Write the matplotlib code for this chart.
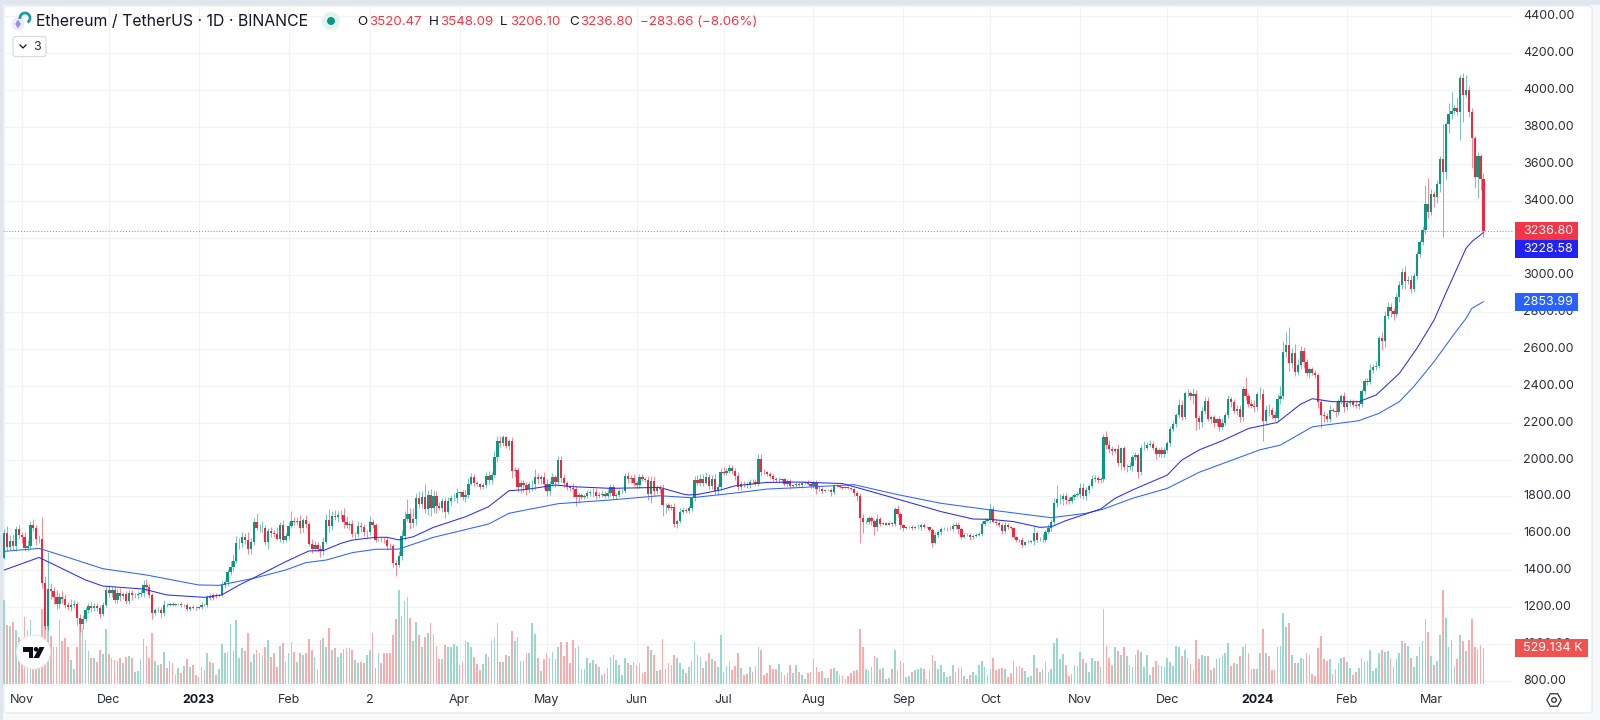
import numpy as np
import matplotlib
matplotlib.use("Agg")
import matplotlib.pyplot as plt
from matplotlib.patches import Circle, FancyBboxPatch, Polygon, Rectangle, RegularPolygon, Arc

plt.rcParams['font.family'] = ['Inter', 'DejaVu Sans']

# closes per month, index 0 is 1 Nov 2022
close_oct22 = [1600, 1525, 1560, 1530, 1622, 1590]
close_nov22 = [1578, 1520, 1530, 1645, 1628, 1570, 1570, 1333, 1100, 1300, 1287, 1255, 1220, 1255, 1245, 1215, 1200, 1213, 1218, 1140, 1108, 1135, 1185, 1205, 1195, 1205, 1195, 1165, 1215, 1295]
close_dec22 = [1275, 1295, 1240, 1280, 1260, 1270, 1232, 1280, 1265, 1265, 1272, 1275, 1320, 1310, 1265, 1168, 1185, 1188, 1168, 1215, 1212, 1218, 1215, 1218, 1220, 1212, 1212, 1190, 1200, 1198, 1197]
close_jan23 = [1200, 1215, 1214, 1256, 1250, 1268, 1263, 1265, 1320, 1335, 1390, 1420, 1450, 1550, 1550, 1578, 1565, 1513, 1555, 1660, 1627, 1627, 1630, 1555, 1612, 1603, 1598, 1571, 1645, 1566, 1585]
close_feb23 = [1642, 1665, 1660, 1665, 1630, 1670, 1650, 1545, 1515, 1540, 1515, 1505, 1555, 1675, 1640, 1695, 1690, 1700, 1700, 1660, 1645, 1650, 1595, 1595, 1640, 1635, 1605, 1605]
close_mar23 = [1662, 1648, 1567, 1567, 1565, 1563, 1534, 1533, 1439, 1430, 1480, 1587, 1680, 1705, 1655, 1678, 1790, 1760, 1795, 1730, 1810, 1735, 1805, 1750, 1740, 1775, 1715, 1775, 1790, 1790, 1820]
close_apr23 = [1822, 1795, 1808, 1870, 1905, 1872, 1865, 1850, 1860, 1910, 1890, 1918, 2012, 2100, 2092, 2120, 2075, 2100, 1938, 1945, 1850, 1875, 1860, 1840, 1865, 1865, 1908, 1893, 1905, 1870]
close_may23 = [1830, 1870, 1903, 1877, 1995, 1900, 1873, 1850, 1845, 1840, 1795, 1808, 1798, 1800, 1820, 1825, 1825, 1800, 1810, 1815, 1805, 1818, 1853, 1800, 1806, 1828, 1830, 1910, 1892, 1902, 1874]
close_jun23 = [1862, 1907, 1892, 1890, 1812, 1885, 1830, 1845, 1838, 1752, 1752, 1740, 1742, 1650, 1665, 1718, 1725, 1720, 1735, 1790, 1888, 1875, 1895, 1875, 1905, 1858, 1892, 1830, 1850, 1933]
close_jul23 = [1925, 1937, 1955, 1937, 1910, 1850, 1870, 1865, 1860, 1880, 1878, 1870, 2005, 1935, 1930, 1920, 1910, 1895, 1890, 1890, 1892, 1865, 1885, 1855, 1860, 1870, 1860, 1875, 1880, 1865, 1855]
close_aug23 = [1875, 1840, 1838, 1828, 1835, 1835, 1825, 1855, 1855, 1850, 1848, 1850, 1845, 1840, 1820, 1805, 1685, 1660, 1660, 1685, 1665, 1635, 1680, 1652, 1655, 1648, 1655, 1650, 1730, 1705, 1645]
close_sep23 = [1630, 1635, 1636, 1630, 1635, 1635, 1645, 1635, 1636, 1617, 1550, 1593, 1608, 1625, 1625, 1625, 1622, 1640, 1645, 1623, 1583, 1593, 1592, 1582, 1588, 1593, 1595, 1652, 1668, 1672]
close_oct23 = [1732, 1664, 1655, 1647, 1612, 1645, 1635, 1632, 1580, 1567, 1567, 1540, 1551, 1555, 1557, 1600, 1565, 1567, 1565, 1605, 1630, 1662, 1763, 1785, 1786, 1805, 1780, 1775, 1795, 1810, 1816]
close_nov23 = [1847, 1800, 1833, 1855, 1895, 1900, 1887, 1893, 2122, 2078, 2057, 2045, 2055, 1980, 2060, 1960, 1960, 1965, 2015, 2022, 1930, 2065, 2065, 2080, 2085, 2065, 2030, 2050, 2030, 2052]
close_dec23 = [2087, 2165, 2193, 2243, 2293, 2232, 2358, 2358, 2343, 2353, 2225, 2202, 2260, 2316, 2220, 2228, 2197, 2217, 2177, 2200, 2240, 2325, 2310, 2265, 2273, 2230, 2380, 2345, 2300, 2292, 2282]
close_jan24 = [2352, 2355, 2210, 2270, 2268, 2240, 2222, 2330, 2345, 2583, 2618, 2522, 2576, 2472, 2510, 2587, 2528, 2467, 2490, 2470, 2455, 2313, 2242, 2235, 2218, 2267, 2265, 2255, 2315, 2342, 2282]
close_feb24 = [2305, 2310, 2295, 2290, 2302, 2372, 2425, 2422, 2486, 2500, 2507, 2660, 2642, 2777, 2825, 2803, 2785, 2880, 2945, 3015, 2965, 2972, 2922, 2992, 3112, 3178, 3243, 3385, 3340]
close_mar24 = [3435, 3420, 3490, 3628, 3558, 3815, 3870, 3885, 3900, 3882, 4063, 3975, 4000, 3880, 3738, 3527, 3644, 3520.47, 3236.80]
first_open = 1465

# upper wick above the body
up_oct22 = [25, 40, 30, 35, 20, 25]
up_nov22 = [15, 30, 35, 20, 32, 15, 20, 120, 35, 200, 30, 25, 40, 20, 35, 25, 15, 30, 20, 15, 25, 25, 15, 20, 25, 20, 20, 15, 15, 20]
up_dec22 = [25, 15, 20, 20, 25, 15, 20, 15, 15, 15, 15, 20, 30, 35, 15, 15, 12, 15, 15, 25, 8, 8, 10, 8, 6, 8, 8, 10, 8, 10, 8]
up_jan23 = [8, 12, 6, 12, 15, 10, 8, 6, 25, 15, 18, 30, 40, 35, 25, 30, 25, 40, 20, 25, 50, 25, 35, 15, 20, 25, 15, 35, 15, 30, 15]
up_feb23 = [20, 55, 25, 25, 35, 15, 30, 10, 25, 20, 15, 20, 25, 30, 55, 25, 30, 20, 25, 35, 35, 15, 20, 15, 25, 20, 15, 15]
up_mar23 = [30, 15, 10, 8, 12, 15, 15, 12, 10, 15, 25, 30, 40, 80, 30, 60, 30, 40, 35, 70, 25, 30, 30, 25, 20, 15, 15, 20, 20, 30, 25]
up_apr23 = [10, 15, 25, 30, 20, 15, 10, 10, 15, 25, 30, 15, 35, 25, 25, 12, 5, 10, 20, 15, 15, 15, 15, 20, 15, 25, 40, 20, 10, 30]
up_may23 = [25, 15, 25, 15, 25, 25, 20, 10, 10, 30, 15, 10, 10, 12, 15, 10, 20, 20, 15, 15, 15, 20, 15, 15, 12, 15, 10, 15, 25, 15, 20]
up_jun23 = [10, 15, 15, 15, 20, 25, 25, 15, 15, 30, 15, 15, 15, 20, 15, 20, 20, 15, 12, 15, 25, 30, 25, 25, 25, 15, 25, 30, 15, 20]
up_jul23 = [25, 15, 20, 15, 15, 25, 15, 12, 15, 15, 15, 15, 25, 25, 12, 10, 10, 10, 10, 15, 10, 10, 10, 10, 8, 8, 8, 8, 5, 8, 8]
up_aug23 = [10, 15, 15, 15, 5, 5, 10, 15, 15, 8, 6, 5, 5, 5, 5, 12, 15, 20, 15, 8, 8, 15, 25, 10, 8, 8, 5, 8, 12, 25, 10]
up_sep23 = [8, 5, 5, 10, 5, 15, 10, 10, 5, 5, 15, 15, 10, 10, 8, 10, 15, 15, 15, 15, 10, 8, 8, 8, 8, 8, 10, 15, 15, 12]
up_oct23 = [30, 15, 12, 10, 8, 15, 10, 5, 5, 8, 5, 15, 5, 8, 8, 40, 15, 15, 30, 15, 20, 15, 30, 77, 25, 15, 15, 15, 15, 10, 10]
up_nov23 = [25, 25, 20, 15, 20, 15, 10, 15, 15, 30, 25, 15, 10, 30, 10, 15, 15, 20, 10, 20, 15, 15, 35, 15, 20, 15, 10, 15, 20, 15]
up_dec23 = [15, 15, 15, 10, 35, 30, 15, 25, 15, 35, 25, 15, 25, 20, 20, 15, 15, 10, 20, 25, 15, 25, 15, 15, 20, 20, 20, 65, 15, 20, 30]
up_jan24 = [15, 40, 25, 25, 30, 15, 25, 25, 55, 60, 70, 97, 25, 50, 35, 25, 20, 15, 10, 10, 15, 15, 15, 20, 15, 30, 10, 45, 15, 15, 25]
up_feb24 = [15, 15, 20, 25, 15, 10, 15, 15, 30, 15, 25, 10, 30, 25, 25, 20, 15, 20, 20, 20, 30, 20, 25, 20, 15, 10, 20, 100, 137]
up_mar24 = [30, 20, 25, 15, 190, 10, 57, 105, 20, 60, 20, 27, 80, 20, 25, 15, 20, 10, 28]

# lower wick below the body
down_oct22 = [5, 20, 15, 20, 25, 20]
down_nov22 = [30, 15, 15, 15, 15, 35, 20, 30, 25, 25, 40, 35, 30, 25, 20, 20, 15, 20, 15, 35, 40, 25, 15, 15, 20, 15, 15, 25, 10, 15]
down_dec22 = [20, 20, 15, 15, 25, 15, 15, 15, 25, 15, 20, 15, 20, 20, 15, 30, 10, 12, 25, 15, 10, 6, 8, 8, 8, 10, 8, 10, 10, 8, 12]
down_jan23 = [5, 8, 8, 10, 10, 8, 10, 8, 8, 15, 20, 15, 25, 10, 35, 25, 20, 25, 25, 15, 10, 20, 20, 15, 40, 20, 15, 8, 15, 20, 15]
down_feb23 = [20, 15, 15, 15, 30, 20, 20, 15, 20, 10, 15, 30, 20, 10, 30, 20, 20, 30, 20, 30, 15, 25, 15, 25, 15, 25, 20, 30]
down_mar23 = [15, 20, 15, 10, 10, 15, 25, 15, 20, 60, 10, 25, 25, 15, 30, 20, 30, 25, 25, 20, 30, 40, 25, 40, 15, 25, 30, 10, 20, 15, 25]
down_apr23 = [25, 15, 25, 15, 10, 15, 10, 10, 10, 15, 25, 20, 15, 25, 25, 20, 15, 25, 40, 30, 25, 30, 35, 30, 20, 35, 30, 25, 25, 30]
down_may23 = [25, 20, 15, 25, 20, 20, 20, 15, 15, 45, 45, 30, 10, 10, 10, 15, 30, 15, 10, 15, 15, 15, 15, 15, 15, 10, 10, 10, 20, 20, 15]
down_jun23 = [15, 15, 10, 10, 30, 50, 25, 15, 20, 60, 40, 15, 15, 15, 20, 10, 15, 10, 12, 15, 15, 15, 20, 20, 10, 20, 20, 15, 20, 15]
down_jul23 = [10, 10, 10, 15, 20, 15, 15, 15, 15, 15, 10, 10, 15, 25, 8, 8, 12, 10, 10, 15, 10, 8, 10, 15, 10, 12, 10, 15, 5, 5, 8]
down_aug23 = [10, 25, 10, 10, 5, 5, 25, 10, 5, 5, 5, 3, 5, 5, 15, 30, 135, 60, 10, 10, 20, 45, 20, 10, 8, 5, 5, 10, 10, 15, 20]
down_sep23 = [15, 5, 5, 10, 8, 10, 15, 8, 5, 8, 25, 8, 12, 15, 8, 10, 5, 10, 15, 25, 12, 8, 8, 15, 10, 8, 8, 10, 10, 8]
down_oct23 = [15, 10, 12, 10, 15, 10, 10, 10, 10, 15, 15, 15, 5, 5, 8, 20, 10, 8, 10, 12, 10, 15, 20, 20, 25, 30, 20, 15, 10, 15, 15]
down_nov23 = [25, 15, 20, 20, 10, 15, 15, 15, 15, 20, 20, 20, 10, 15, 35, 15, 30, 15, 25, 20, 30, 15, 15, 15, 10, 15, 25, 15, 15, 15]
down_dec23 = [10, 15, 10, 15, 20, 20, 15, 20, 20, 40, 65, 35, 25, 15, 10, 25, 20, 15, 25, 15, 15, 15, 25, 15, 25, 25, 20, 25, 15, 15, 25]
down_jan24 = [15, 25, 110, 15, 35, 20, 15, 15, 30, 20, 30, 45, 25, 20, 15, 20, 35, 15, 25, 10, 15, 35, 72, 30, 15, 15, 10, 25, 15, 15, 25]
down_feb24 = [15, 15, 10, 10, 15, 20, 15, 20, 15, 20, 15, 10, 50, 35, 15, 30, 30, 15, 25, 20, 40, 15, 20, 15, 15, 15, 15, 20, 35]
down_mar24 = [15, 55, 30, 40, 353, 40, 50, 25, 15, 20, 153, 147, 15, 25, 160, 60, 114, 62, 30.7]

# volume in thousands
vol_a = [1227, 862, 847, 901, 789, 692, 650, 974, 790, 935, 650, 600, 560, 1100, 1250, 1000, 700, 545, 545, 935,
         633, 667, 536, 351, 214, 536, 886, 813, 643, 487, 385, 375, 326, 497, 438, 799, 433, 375, 351, 341,
         375, 312, 399, 409, 375, 180, 190, 360, 657, 555, 375, 750, 341, 278, 292, 463, 239, 336, 302, 131,
         229, 166, 263, 360, 244, 278, 131]
vol_b = [107, 253, 205, 448, 326, 312, 131, 214, 584, 458, 468, 872, 487, 935, 375, 521, 487, 750, 326, 438,
         497, 458, 424, 536, 643, 399, 448, 253, 555, 594, 326, 448, 618, 472, 326, 448, 424, 448, 657, 497,
         399, 205, 643, 667, 545, 823, 497, 521, 399, 448, 506, 521, 521, 497, 351, 302, 326, 302, 424, 497,
         740, 229, 448, 302, 448, 458]
vol_c = [458, 716, 950, 1373, 998, 1218, 1276, 959, 628, 901, 716, 536, 682, 740, 886, 731, 560, 360, 360, 570,
         536, 536, 580, 555, 278, 321, 628, 618, 545, 399, 287, 205, 292, 433, 399, 628, 672, 896, 321, 321,
         424, 409, 774, 628, 692, 341, 341, 448, 458, 896, 731, 385, 185, 360, 448, 375, 468, 360, 545, 609,
         409, 618, 312, 643, 521, 560, 219, 224, 385, 312, 351, 292, 244, 136, 156, 234, 399, 419, 351, 273,
         136, 380, 312, 273, 321, 278, 312, 156, 175, 555, 492, 424, 190, 205, 653, 224, 307, 282, 419, 375,
         312, 219, 161, 248, 331, 614, 419, 399, 229, 341, 453, 365, 331, 244, 711, 180, 263, 321, 205, 268,
         453, 234, 131, 141, 248, 180, 268, 545, 497, 136, 156, 278, 219, 224, 292, 170, 131, 156, 273, 156,
         278, 170]
vol_d = [136, 73, 161, 170, 360, 248, 175, 190, 93, 88, 224, 234, 190, 131, 117, 68, 122, 156, 185, 205,
         808, 536, 224, 205, 248, 404, 375, 224, 234, 78, 93, 214, 492, 205, 331, 307, 102, 117, 170, 205,
         224, 229, 224, 68, 205, 419, 331, 224, 273, 180, 97, 122, 282, 180, 234, 244, 122, 68, 136, 175,
         131, 273, 336, 248, 136, 224, 380, 205, 224, 239, 219, 102, 156, 341, 244, 258, 239, 190, 102, 122,
         419, 234, 175, 219, 321, 175, 224, 604, 672, 360, 433, 273, 122, 146, 282, 263, 468, 365, 312, 175,
         380, 331, 336, 248, 1096, 555, 375, 282, 536, 482, 424, 545, 404, 282, 248, 424, 492, 463, 248, 424,
         136, 248, 331, 282, 263, 248, 375, 321, 263, 555, 536, 409, 492, 380, 292, 205, 643, 365, 424, 409]
vol_e = [409, 205, 229, 365, 385, 424, 448, 594, 263, 312, 292, 409, 541, 580, 453, 219, 219, 219, 453, 799,
         448, 404, 205, 205, 536, 555, 1032, 838, 886, 424, 312, 312, 385, 365, 453, 424, 141, 122, 526, 696,
         360, 336, 365, 146, 219, 312, 375, 394, 317, 239, 136, 180, 239, 375, 341, 341, 497, 185, 229, 453,
         497, 472, 482, 380, 248, 365, 453, 628, 594, 560, 385, 248, 409, 545, 628, 945, 760, 409, 282, 341,
         711, 1378, 959, 541, 643, 263, 360, 711, 628, 482, 648, 945, 541, 516, 570, 529.134]

# moving averages, read at a few days
ma_dark_days = [-6, 6, 22, 28, 42, 50, 63, 69, 75, 82, 91, 99, 104, 110, 114, 122, 126, 130, 135, 142, 153, 161, 168, 174, 184, 190, 203, 220, 228, 230, 233, 241, 246, 257, 268, 283, 291, 302, 317, 328, 334, 342, 351, 355, 360, 372, 377, 383, 395, 400, 406, 414, 423, 433, 441, 445, 452, 461, 467, 475, 481, 487, 491, 498, 500, 504]
ma_dark = [1402, 1470, 1348, 1315, 1299, 1267, 1254, 1267, 1321, 1375, 1447, 1505, 1507, 1546, 1564, 1579, 1579, 1565, 1582, 1633, 1690, 1745, 1831, 1838, 1862, 1853, 1844, 1849, 1813, 1808, 1811, 1835, 1858, 1876, 1878, 1870, 1835, 1786, 1718, 1678, 1676, 1664, 1633, 1636, 1669, 1732, 1790, 1835, 1916, 1997, 2052, 2102, 2168, 2201, 2300, 2329, 2313, 2313, 2349, 2466, 2600, 2755, 2899, 3143, 3179, 3228.58]
ma_blue_days = [-6, 6, 16, 28, 43, 61, 68, 80, 91, 98, 105, 114, 122, 130, 142, 161, 168, 185, 203, 220, 231, 245, 257, 268, 287, 302, 317, 334, 355, 367, 373, 383, 395, 406, 427, 434, 445, 461, 468, 475, 480, 487, 493, 498, 500, 504]
ma_blue = [1503, 1519, 1470, 1409, 1375, 1321, 1319, 1357, 1402, 1442, 1456, 1496, 1514, 1515, 1579, 1651, 1709, 1761, 1781, 1804, 1793, 1817, 1840, 1848, 1864, 1810, 1763, 1727, 1685, 1709, 1732, 1790, 1844, 1931, 2053, 2078, 2177, 2210, 2250, 2313, 2395, 2530, 2660, 2764, 2818, 2853.99]

price_ticks = [800, 1000, 1200, 1400, 1600, 1800, 2000, 2200, 2400, 2600, 2800, 3000, 3200, 3400, 3600, 3800, 4000, 4200, 4400]
hidden_price_labels = [3200]  # sits under the last price tags in the reference
month_days = [0, 30, 61, 92, 120, 151, 181, 212, 242, 273, 304, 334, 365, 395, 426, 457, 486]
month_labels = ["Nov", "Dec", "2023", "Feb", "2", "Apr", "May", "Jun", "Jul", "Aug", "Sep", "Oct", "Nov", "Dec", "2024", "Feb", "Mar"]
bold_labels = ["2023", "2024"]

closes = np.array(close_oct22 + close_nov22 + close_dec22 + close_jan23 + close_feb23 + close_mar23 + close_apr23 + close_may23 + close_jun23 + close_jul23 + close_aug23 + close_sep23 + close_oct23 + close_nov23 + close_dec23 + close_jan24 + close_feb24 + close_mar24)
wick_up = np.array(up_oct22 + up_nov22 + up_dec22 + up_jan23 + up_feb23 + up_mar23 + up_apr23 + up_may23 + up_jun23 + up_jul23 + up_aug23 + up_sep23 + up_oct23 + up_nov23 + up_dec23 + up_jan24 + up_feb24 + up_mar24)
wick_down = np.array(down_oct22 + down_nov22 + down_dec22 + down_jan23 + down_feb23 + down_mar23 + down_apr23 + down_may23 + down_jun23 + down_jul23 + down_aug23 + down_sep23 + down_oct23 + down_nov23 + down_dec23 + down_jan24 + down_feb24 + down_mar24)
volumes = np.array(vol_a + vol_b + vol_c + vol_d + vol_e)
assert len(closes) == len(wick_up) == len(wick_down) == len(volumes), (len(closes), len(wick_up), len(wick_down), len(volumes))

opens = np.concatenate([[first_open], closes[:-1]])
days = np.arange(len(closes)) - 6
rising = closes >= opens
highs = np.maximum(opens, closes) + wick_up
lows = np.minimum(opens, closes) - wick_down

GREEN = "#089981"
RED = "#f7253c"
GRID = "#f0f2f6"
W, H = 1600, 720
AXIS_FONT = 9.0


def px_axes(left, top, right, bottom, **kw):
    return fig.add_axes([left / W, 1 - bottom / H, (right - left) / W, (bottom - top) / H], **kw)


fig = plt.figure(figsize=(16, 7.2), dpi=100, facecolor="white")

# page frame
ui_back = fig.add_axes([0, 0, 1, 1], zorder=0)
ui_back.set_xlim(0, W)
ui_back.set_ylim(H, 0)
ui_back.axis("off")
ui_back.add_patch(Rectangle((0, 0), W, H, fc="#f7f8f9", ec="none"))
ui_back.add_patch(Rectangle((0, 0), W, 5, fc="#e0e5ee", ec="none"))
ui_back.add_patch(Rectangle((0, 0), 3, H, fc="#e0e5ee", ec="none"))
ui_back.add_patch(FancyBboxPatch((4, 6), 1588, 707, boxstyle="round,pad=0,rounding_size=3", fc="white", ec="#e4e6ea", lw=0.8))

# main pane
ax = px_axes(3, 5, 1513, 684, zorder=1)
ax.patch.set_alpha(0)
ax.set_xlim(-6.45, 514.2)
ax.set_ylim(785, 4460)
for s in ax.spines.values():
    s.set_visible(False)
ax.set_xticks(month_days)
ax.set_yticks(price_ticks)
ax.tick_params(length=0, labelbottom=False, labelleft=False)
ax.grid(True, color=GRID, lw=0.75)
ax.set_axisbelow(True)

# volume shares the pane, baseline at the bottom
ax_vol = ax.twinx()
ax_vol.set_ylim(0, 9913)
ax_vol.axis("off")
ax_vol.bar(days, volumes, width=0.58, color=np.where(rising, "#9ad7cc", "#fbabab"), zorder=1, lw=0)

# candles
ax_c = ax.twinx()
ax_c.set_ylim(785, 4460)
ax_c.axis("off")
colors = np.where(rising, GREEN, RED)
ax_c.vlines(days, lows, highs, colors=colors, lw=0.55, alpha=0.7, zorder=2)
ax_c.bar(days, np.abs(closes - opens), bottom=np.minimum(opens, closes), width=0.8, color=colors, lw=0, zorder=3)
ax_c.plot(ma_blue_days, ma_blue, color="#2f62ff", lw=0.75, zorder=4)
ax_c.plot(ma_dark_days, ma_dark, color="#2b2bf0", lw=0.75, zorder=5)
ax_c.axhline(closes[-1], color="#f23645", lw=0.7, ls=(0, (1, 2)), alpha=0.8, zorder=4)

# price scale
ax_p = px_axes(1513, 5, 1593, 684, zorder=3)
ax_p.patch.set_alpha(0)
ax_p.set_xlim(1513, 1593)
ax_p.set_ylim(785, 4460)
ax_p.axis("off")
for p in price_ticks:
    if p not in hidden_price_labels:
        ax_p.text(1523, p, f"{p:.2f}", fontsize=AXIS_FONT, color="#2a2e39", va="center", ha="left")


def price_tag(y, label, color, left=1515, right=1578):
    # tag is 18 px tall, which is 98 price units either way
    ax_p.add_patch(Rectangle((left, y - 49), right - left, 98, fc=color, ec="none", zorder=5))
    ax_p.text(left + 8, y, label, fontsize=AXIS_FONT, color="white", va="center", ha="left", zorder=6)


price_tag(closes[-1], f"{closes[-1]:.2f}", "#f23645")
# blue tag is pushed below the red one in the reference
price_tag(closes[-1] - 97, f"{ma_dark[-1]:.2f}", "#2222f5")
price_tag(ma_blue[-1], f"{ma_blue[-1]:.2f}", "#2962ff")
vol_price = 785 + volumes[-1] / 9913 * (4460 - 785)
price_tag(vol_price, f"{volumes[-1]:.3f} K", "#ef5350", right=1588)

# time scale
ax_t = px_axes(3, 684, 1513, 714, zorder=3)
ax_t.patch.set_alpha(0)
ax_t.set_xlim(-6.45, 514.2)
ax_t.set_ylim(1, 0)
ax_t.axis("off")
for d, lab in zip(month_days, month_labels):
    ax_t.text(d, 0.53, lab, fontsize=AXIS_FONT, color="#131722" if lab in bold_labels else "#2a2e39",
              fontweight="bold" if lab in bold_labels else "normal", ha="center", va="center")

# header and widgets on top
ui = fig.add_axes([0, 0, 1, 1], zorder=6)
ui.set_xlim(0, W)
ui.set_ylim(H, 0)
ui.axis("off")
ui.text(36, 22, "Ethereum / TetherUS · 1D · BINANCE", fontsize=11.4, color="#131722", va="center", ha="left")
ui.add_patch(Circle((331, 21), 9, fc="#e1f3ef", ec="none"))
ui.add_patch(Circle((331, 21), 4, fc=GREEN, ec="none"))
header_parts = [(357, "O", "#131722"), (369, "3520.47", "#f23645"), (429, "H", "#131722"), (440, "3548.09", "#f23645"),
                (500, "L", "#131722"), (510, "3206.10", "#f23645"), (569, "C", "#131722"), (580, "3236.80", "#f23645"),
                (640, "−283.66 (−8.06%)", "#f23645")]
for hx, txt, col in header_parts:
    ui.text(hx, 22, txt, fontsize=9.6, color=col, va="center", ha="left")

# symbol logo
ui.add_patch(Circle((18, 24), 6.5, fc="#eeecfb", ec="none"))
ui.add_patch(Polygon([(18, 19.5), (20.8, 24), (18, 28.5), (15.2, 24)], fc="#9d8bea", ec="none"))
ui.add_patch(Arc((25, 18), 10, 10, theta1=170, theta2=60, color="#1e9c9c", lw=2))

# indicators button
ui.add_patch(FancyBboxPatch((13, 36.5), 33, 20, boxstyle="round,pad=0,rounding_size=2.5", fc="white", ec="#d6d9e0", lw=0.8))
ui.plot([20, 23, 26], [45, 48, 45], color="#131722", lw=0.9)
ui.text(37, 46.5, "3", fontsize=AXIS_FONT, color="#2a2e39", va="center", ha="center")

# watermark logo
ui.add_patch(Circle((33.5, 652), 17, fc="white", ec="#e6e8ee", lw=0.8))
ui.add_patch(Polygon([(23, 647), (33, 647), (33, 658), (28.5, 658), (28.5, 651.5), (23, 651.5)], fc="#0b0e14", ec="none"))
ui.add_patch(Circle((36, 649.3), 2.3, fc="#0b0e14", ec="none"))
ui.add_patch(Polygon([(39.5, 647), (44.5, 647), (39, 658), (33.5, 658)], fc="#0b0e14", ec="none"))

# settings icon
ui.add_patch(RegularPolygon((1554, 700), 6, radius=7.2, orientation=np.pi / 2, fc="none", ec="#2a2e39", lw=0.9))
ui.add_patch(Circle((1554, 700), 2.3, fc="none", ec="#2a2e39", lw=0.9))

fig.savefig("out.png", dpi=100)
